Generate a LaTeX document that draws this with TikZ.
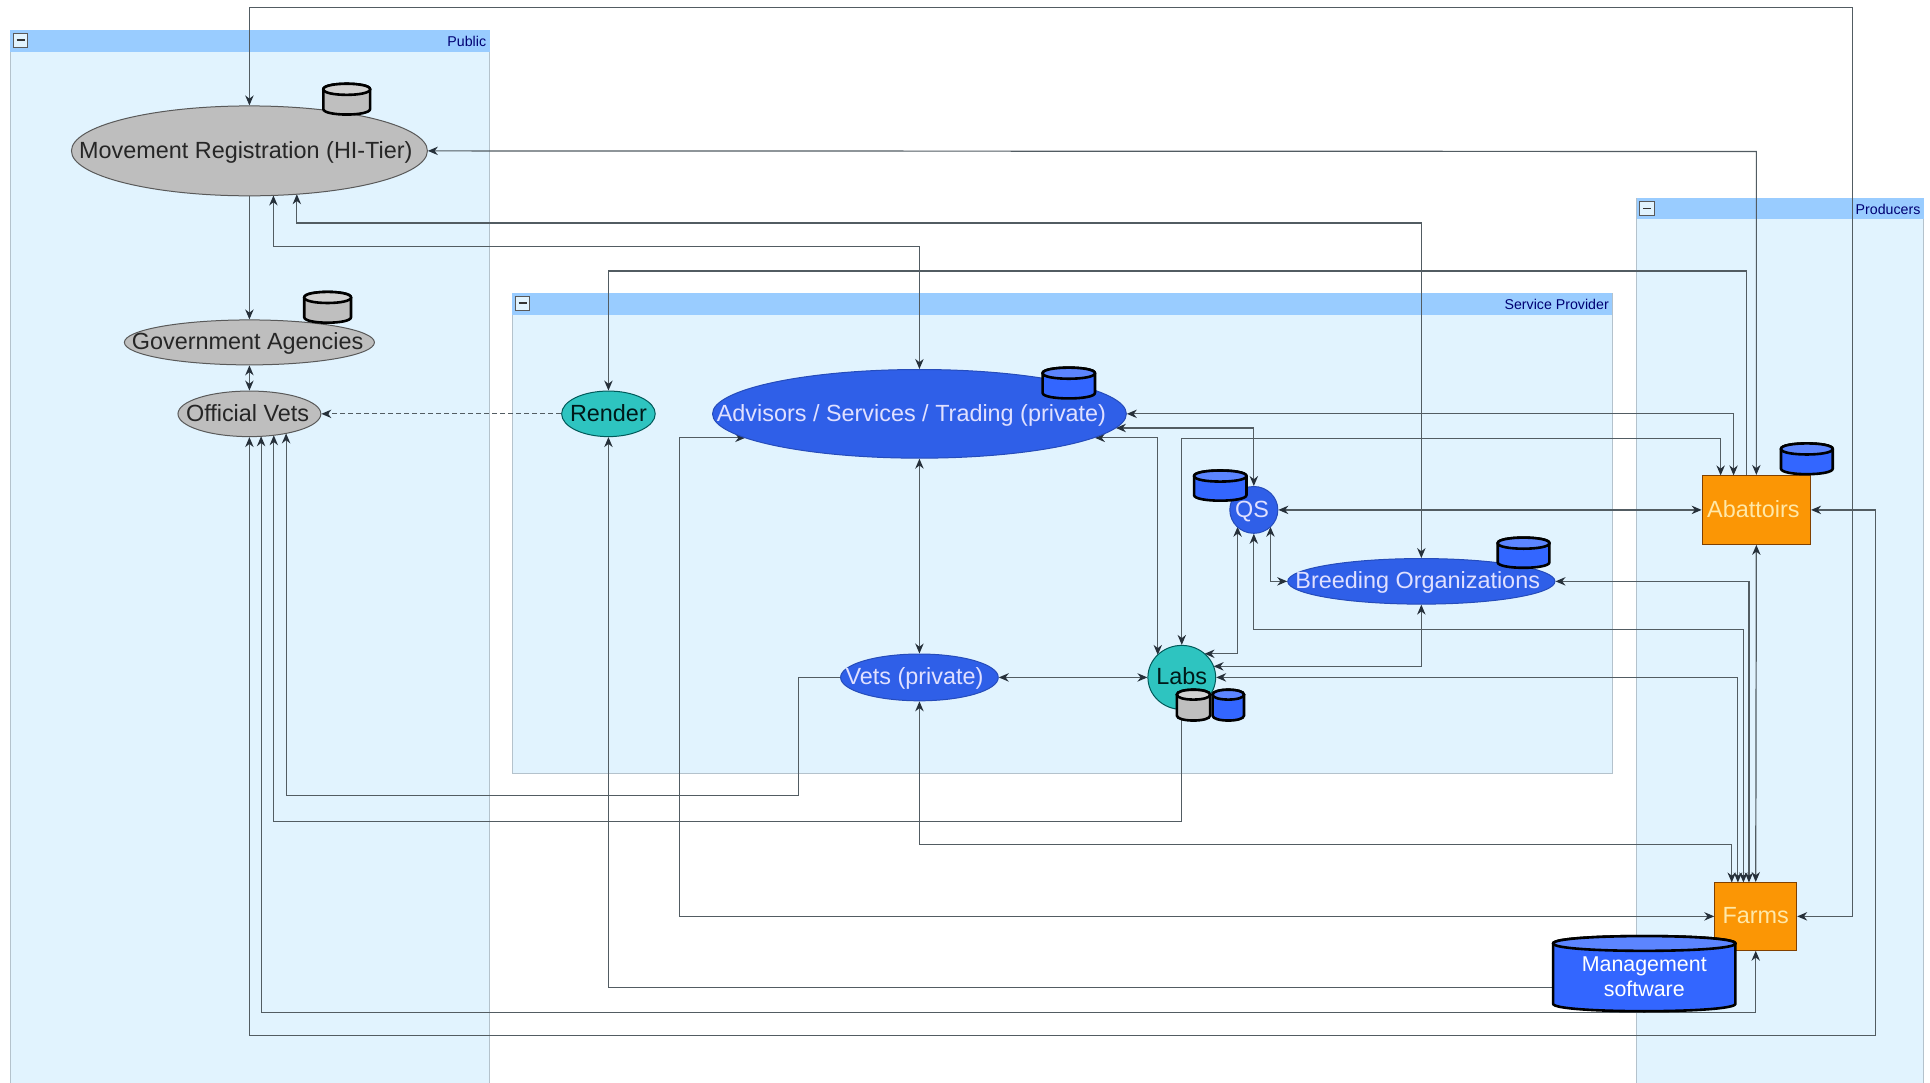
\documentclass[tikz,border=0pt]{standalone}
\usepackage{fontspec}
\setmainfont{Liberation Sans}
\usetikzlibrary{arrows.meta,shapes.geometric,backgrounds}
\definecolor{panelfill}{HTML}{E1F3FE}
\definecolor{panelhead}{HTML}{99CCFF}
\definecolor{panelline}{HTML}{B4C2CC}
\definecolor{linkc}{HTML}{525C62}
\definecolor{tipc}{HTML}{26303A}
\definecolor{nodegray}{HTML}{BEBEBE}
\definecolor{nodeblue}{HTML}{2F5FE8}
\definecolor{nodeteal}{HTML}{2EC4C0}
\definecolor{nodeorange}{HTML}{FB9605}
\definecolor{cylblue}{HTML}{3366FF}
\definecolor{cylbluetop}{HTML}{5C85FF}
\definecolor{cylgray}{HTML}{BFBFBF}
\definecolor{cylgraytop}{HTML}{D2D2D2}
\definecolor{paletxt}{HTML}{FFE8A8}
\newcommand{\uu}{0.6158pt}
\newcommand{\lb}[2][0]{\makebox[0pt]{\kern #1pt\raisebox{0pt}[9.2pt][2pt]{#2}}}
% panel: x1,y1,x2,y2,yhead,title
\newcommand{\panelbox}[6]{%
  \fill[panelfill] (#1,#2) rectangle (#3,#4);
  \draw[panelline,line width=.6pt] (#1,#2) rectangle (#3,#4);
  \fill[panelhead] (#1,#2) rectangle (#3,#5);
  \draw[fill=panelfill,draw=black!65,line width=.5pt] (#1+2.5,#2+2.5) rectangle (#1+14,#2+14);
  \draw[black!80,line width=.8pt] (#1+5,#2+8.2) -- (#1+11.5,#2+8.2);
  \node[paneltitle,anchor=east] at (#3-2.5,#2+9) {#6};
}
% cylinder: x1,y1,x2,y2,body,top,ry
\newcommand{\dbcyl}[7]{%
  \pgfmathsetmacro{\cmx}{(#1+#3)/2}
  \pgfmathsetmacro{\cyc}{#2+#7}
  \pgfmathsetmacro{\cya}{#2+#7-4/3*#7}
  \pgfmathsetmacro{\cyb}{#2+#7+4/3*#7}
  \pgfmathsetmacro{\cyd}{#4-#7}
  \pgfmathsetmacro{\cye}{#4+#7/3}
  \draw[fill=#5,draw=black,line width=1.3pt]
    (#1,\cyc) -- (#1,\cyd) .. controls (#1,\cye) and (#3,\cye) .. (#3,\cyd) -- (#3,\cyc)
    .. controls (#3,\cya) and (#1,\cya) .. (#1,\cyc) -- cycle;
  \draw[fill=#6,draw=black,line width=1.3pt]
    (#1,\cyc) .. controls (#1,\cya) and (#3,\cya) .. (#3,\cyc)
    .. controls (#3,\cyb) and (#1,\cyb) .. (#1,\cyc) -- cycle;
}
\tikzset{
  paneltitle/.style={font=\fontsize{7.1pt}{8pt}\selectfont,text=blue!45!black,inner sep=0pt},
  entity/.style={ellipse,inner sep=0pt,line width=.5pt,font=\fontsize{11.7pt}{13pt}\selectfont},
  grayent/.style={entity,fill=nodegray,draw=black!65,text=black!85},
  blueent/.style={entity,fill=nodeblue,draw=nodeblue!80!black,text=white!88!blue},
  tealent/.style={entity,fill=nodeteal,draw=teal!70!black,text=black!80!teal},
  orangeent/.style={rectangle,inner sep=0pt,fill=nodeorange,draw=black!50!orange,line width=.5pt,
     font=\fontsize{11.7pt}{13pt}\selectfont,text=paletxt},
  both/.style={draw=linkc,line width=.6pt,{Stealth[length=5pt,width=4.2pt,color=tipc]}-{Stealth[length=5pt,width=4.2pt,color=tipc]}},
  oneway/.style={draw=linkc,line width=.6pt,-{Stealth[length=5pt,width=4.2pt,color=tipc]}},
  plainlink/.style={draw=linkc,line width=.6pt},
  dashlink/.style={oneway,dashed,dash pattern=on 2.4pt off 1.6pt},
}
\begin{document}
\begin{tikzpicture}[x=\uu,y=-\uu]
\useasboundingbox (0,0) rectangle (1567,878.6);
% nodes
\node[grayent,minimum width=289*\uu,minimum height=73*\uu] (mov) at (202.5,122.5) {\lb[-3.6]{Movement Registration (HI-Tier)}};
\node[grayent,minimum width=203*\uu,minimum height=36.5*\uu] (gov) at (202.5,278) {\lb[-1.8]{Government Agencies}};
\node[grayent,minimum width=116*\uu,minimum height=37*\uu] (ovet) at (202.5,336) {\lb[-1.8]{Official Vets}};
\node[tealent,minimum width=76*\uu,minimum height=37*\uu] (render) at (494,336) {\lb{Render}};
\node[blueent,minimum width=336*\uu,minimum height=72*\uu] (adv) at (746.5,336) {\lb[-8]{Advisors / Services / Trading (private)}};
\node[blueent,minimum width=128*\uu,minimum height=38*\uu] (pvet) at (746.5,550) {\lb[-4.9]{Vets (private)}};
\node[tealent,minimum width=55*\uu,minimum height=52*\uu] (labs) at (959.5,550) {\lb{Labs}};
\node[blueent,minimum width=39*\uu,minimum height=38*\uu] (qs) at (1018,414) {\lb[-1.8]{QS}};
\node[blueent,minimum width=217*\uu,minimum height=37*\uu] (breed) at (1154,472) {\lb[-3.6]{Breeding Organizations}};
\node[orangeent,minimum width=88*\uu,minimum height=56*\uu] (abat) at (1426,414) {\lb[-3]{Abattoirs}};
\node[orangeent,minimum width=66.5*\uu,minimum height=55*\uu] (farms) at (1425.5,744) {\lb{Farms}};
% ports
\coordinate (movA) at (241,157.7);
\coordinate (movB) at (222,158.7);
\coordinate (ovA) at (212,354.2);
\coordinate (ovB) at (222.3,353.4);
\coordinate (ovC) at (232.3,351.9);
\coordinate (advA) at (605,355.5);
\coordinate (advB) at (889,355.5);
\coordinate (advC) at (906,347.5);
\coordinate (labA) at (940,531.7);
\coordinate (labB) at (978,530.8);
\coordinate (labC) at (985.3,541);
\coordinate (qsA) at (1004.8,427.7);
\coordinate (qsB) at (1031.5,427.7);
\coordinate (abA) at (1397,386);
\coordinate (abB) at (1407.5,386);
\coordinate (abC) at (1418,386);
\coordinate (faA) at (1406,716.5);
\coordinate (faB) at (1411,716.5);
\coordinate (faC) at (1415.5,716.5);
\coordinate (faD) at (1420,716.5);
\begin{scope}[on background layer]
\panelbox{8.5}{24.5}{397.5}{885}{42}{Public}
\panelbox{416}{238}{1309}{628}{256}{Service Provider}
\panelbox{1329}{161}{1562}{885}{178}{Producers}
% connectors
\draw[both] (farms.east) -- (1504,744) -- (1504,6) -- (202.5,6) -- (mov.north);
\draw[both] (abat.north) -- (abat.north |- 0,123) -- (mov.east);
\draw[both] (movA) -- (movA |- 0,181) -- (breed.north |- 0,181) -- (breed.north);
\draw[both] (movB) -- (movB |- 0,200) -- (adv.north |- 0,200) -- (adv.north);
\draw[oneway] (mov.south) -- (gov.north);
\draw[both] (gov.south) -- (ovet.north);
\draw[oneway] (abC) -- (abC |- 0,220) -- (render.north |- 0,220) -- (render.north);
\draw[dashlink] (render.west) -- (ovet.east);
\draw[both] (adv.east) -- (abB |- adv.east) -- (abB);
\draw[both] (advC) -- (qs.north |- advC) -- (qs.north);
\draw[both] (advB) -- (labA |- advB) -- (labA);
\draw[both] (labs.north) -- (labs.north |- 0,356) -- (abA |- 0,356) -- (abA);
\draw[both] (advA) -- (552,355.5) -- (552,744) -- (farms.west);
\draw[both] (adv.south) -- (pvet.north);
\draw[both] (pvet.south) -- (pvet.south |- 0,685.5) -- (faA |- 0,685.5) -- (faA);
\draw[both] (pvet.east) -- (labs.west);
\draw[oneway] (pvet.west) -- (648.5,550) -- (648.5,646) -- (ovC |- 0,646) -- (ovC);
\draw[oneway] (labs.south) -- (labs.south |- 0,667) -- (ovB |- 0,667) -- (ovB);
\draw[both] (farms.south) -- (farms.south |- 0,822) -- (ovA |- 0,822) -- (ovA);
\draw[both] (abat.east) -- (1522.5,414) -- (1522.5,841) -- (ovet.south |- 0,841) -- (ovet.south);
\draw[both] (qs.east) -- (abat.west);
\draw[both] (qsB) -- (qsB |- breed.west) -- (breed.west);
\draw[both] (qs.south) -- (qs.south |- 0,511) -- (faC |- 0,511) -- (faC);
\draw[both] (qsA) -- (qsA |- labB) -- (labB);
\draw[both] (labC) -- (breed.south |- labC) -- (breed.south);
\draw[both] (labs.east) -- (faB |- labs.east) -- (faB);
\draw[both] (breed.east) -- (faD |- breed.east) -- (faD);
\draw[both] (farms.north) -- (abat.south);
\end{scope}
% data stores
\dbcyl{262.5}{68}{300.5}{93}{cylgray}{cylgraytop}{4.5}
\dbcyl{247}{237}{285}{262}{cylgray}{cylgraytop}{4.5}
\dbcyl{846.5}{298.5}{889}{323.5}{cylblue}{cylbluetop}{4.5}
\dbcyl{969.5}{382}{1012}{406.5}{cylblue}{cylbluetop}{4.5}
\dbcyl{1216}{436.5}{1258}{461}{cylblue}{cylbluetop}{4.5}
\dbcyl{1446}{360}{1488}{385}{cylblue}{cylbluetop}{4.5}
\dbcyl{955.5}{560}{982.5}{585}{cylgray}{cylgraytop}{4}
\dbcyl{984.5}{560}{1010}{585}{cylblue}{cylbluetop}{4}
\dbcyl{1261}{760}{1409}{821}{cylblue}{cylbluetop}{6}
\node[align=center,text=white,inner sep=0pt,font=\fontsize{10.7pt}{12.4pt}\selectfont,minimum width=148*\uu,minimum height=40*\uu] (mgmt) at (1335,793) {Management\\software};
\begin{scope}[on background layer]
\draw[oneway] (mgmt.west |- 0,802) -- (render.south |- 0,802) -- (render.south);
\end{scope}
\end{tikzpicture}
\end{document}
